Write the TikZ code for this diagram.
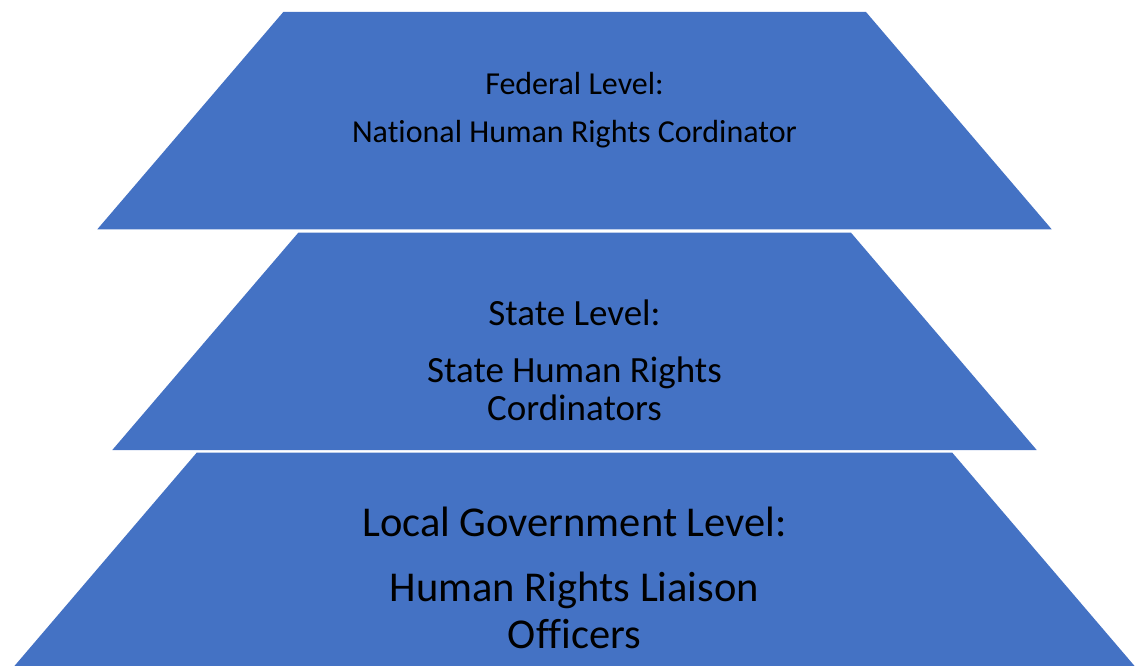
\documentclass[tikz,border=0pt]{standalone}
\usepackage{fontspec}
\setmainfont{Carlito}[Ligatures=NoCommon]
\definecolor{tierblue}{HTML}{4472C4}
\begin{document}
\begin{tikzpicture}[x=1pt,y=-1pt,
  tier/.style={fill=tierblue},
  tiertext/.style={anchor=base,align=center,text=black,inner sep=0pt}]
\useasboundingbox (0,0) rectangle (1138,666);
\begin{scope}
\clip (0,0) rectangle (1138,666);
% federal tier
\fill[tier] (283.3,12) -- (866,12) -- (1051.7,229.3) -- (97.3,229.3) -- cycle;
% state tier
\fill[tier] (298.3,232.7) -- (851,232.7) -- (1036.7,450) -- (112.3,450) -- cycle;
% local government tier
\fill[tier] (196.7,452.7) -- (952.3,452.7) -- (1138,670) -- (11,670) -- cycle;
\end{scope}
% labels, anchored at the baseline of their last line
\node[tiertext,font=\fontsize{32}{48.4}\selectfont] (federal) at (574.5,142.7)
  {Federal Level:\\National Human Rights Cordinator};
\node[tiertext,font=\fontsize{37}{38}\selectfont] (state) at (574.5,420.7)
  {State Level:\\[19.7pt]State Human Rights\\Cordinators};
\node[tiertext,font=\fontsize{42.5}{46.6}\selectfont] (local) at (574.5,648.3)
  {Local Government Level:\\[18.4pt]Human Rights Liaison\\Officers};
\end{tikzpicture}
\end{document}
